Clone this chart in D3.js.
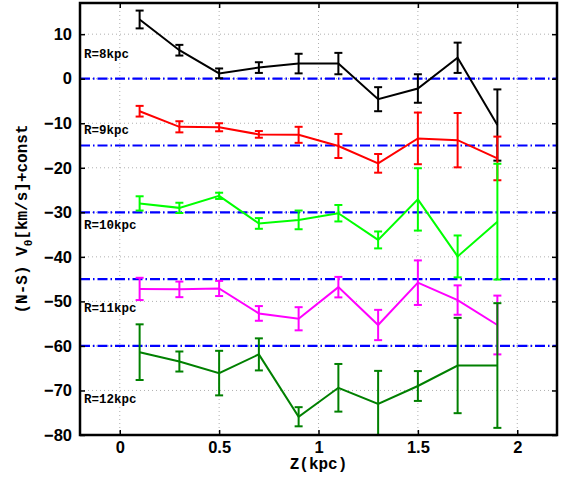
<!DOCTYPE html>
<html><head><meta charset="utf-8">
<script src="https://cdn.jsdelivr.net/npm/d3@7"></script>
<style>
html,body{margin:0;padding:0;background:#fff;}
svg{display:block;}
</style></head>
<body>
<script>
const zVals = [0.1, 0.3, 0.5, 0.7, 0.9, 1.1, 1.3, 1.5, 1.7, 1.9];
const seriesNames = ["R=8kpc", "R=9kpc", "R=10kpc", "R=11kpc", "R=12kpc"];
const seriesColors = ["#000000", "#ff0000", "#00ff00", "#ff00ff", "#008000"];
const r8  = [13.3, 6.4, 1.2, 2.5, 3.4, 3.4, -4.6, -2.2, 4.7, -10.4];
const e8  = [2.0, 1.2, 1.1, 1.2, 2.2, 2.4, 2.7, 3.2, 3.4, 8.0];
const r9  = [-7.3, -10.8, -10.9, -12.5, -12.6, -15.1, -19.0, -13.4, -13.8, -17.9];
const e9  = [1.2, 1.25, 0.9, 0.75, 1.8, 2.7, 2.1, 5.8, 6.1, 4.9];
const r10 = [-28.0, -29.0, -26.3, -32.5, -31.7, -30.2, -36.2, -27.1, -39.9, -32.1];
const e10 = [1.6, 1.15, 0.7, 1.2, 2.1, 1.85, 1.9, 7.0, 4.7, 13.0];
const r11 = [-47.2, -47.3, -47.1, -52.7, -53.9, -46.8, -55.3, -45.8, -49.7, -55.3];
const e11 = [2.5, 1.75, 1.7, 1.65, 2.6, 2.3, 3.4, 5.0, 3.3, 6.6];
const r12 = [-61.4, -63.5, -66.1, -61.9, -75.9, -69.4, -73.0, -69.0, -64.4, -64.4];
const e12 = [6.25, 2.25, 5.0, 3.6, 2.15, 5.35, 7.4, 3.35, 10.7, 14.0];
const baseLines = [0, -15, -30, -45, -60];
const labelY = [5.3, -11.7, -32.9, -51.7, -72.1];
const xTicks = [0, 0.5, 1, 1.5, 2];
const yTicks = [-80, -70, -60, -50, -40, -30, -20, -10, 0, 10];

const values = [r8, r9, r10, r11, r12];
const errors = [e8, e9, e10, e11, e12];

const W = 563, H = 478;
const L = 80, R = 557, T = 3, B = 435;

const x = d3.scaleLinear().domain([-0.2, 2.2]).range([L, R]);
const y = d3.scaleLinear().domain([-80, 17]).range([B, T]);

const svg = d3.select("body").append("svg").attr("width", W).attr("height", H);

svg.append("defs").append("clipPath").attr("id", "clip")
  .append("rect").attr("x", L).attr("y", T).attr("width", R - L).attr("height", B - T);

// grid
const grid = svg.append("g");
grid.selectAll(".gx").data(xTicks).join("line")
  .attr("x1", d => x(d)).attr("x2", d => x(d)).attr("y1", T).attr("y2", B)
  .attr("stroke", "#b0b0b0").attr("stroke-width", 1).attr("stroke-dasharray", "1,3");
grid.selectAll(".gy").data(yTicks).join("line")
  .attr("y1", d => y(d)).attr("y2", d => y(d)).attr("x1", L).attr("x2", R)
  .attr("stroke", "#b0b0b0").attr("stroke-width", 1).attr("stroke-dasharray", "1,3");

const plot = svg.append("g").attr("clip-path", "url(#clip)");

// baselines
plot.selectAll(".base").data(baseLines).join("line")
  .attr("x1", L).attr("x2", R).attr("y1", d => y(d)).attr("y2", d => y(d))
  .attr("stroke", "#0000ff").attr("stroke-width", 2.2).attr("stroke-dasharray", "10,3,1.5,3");

// series
const line = d3.line().x(d => x(d[0])).y(d => y(d[1]));
values.forEach((vals, i) => {
  const col = seriesColors[i];
  const pts = zVals.map((z, j) => [z, vals[j], errors[i][j]]);
  const g = plot.append("g");
  g.append("path").attr("d", line(pts)).attr("fill", "none")
    .attr("stroke", col).attr("stroke-width", 2);
  const eb = g.selectAll(".eb").data(pts).join("g");
  eb.append("line").attr("x1", d => x(d[0])).attr("x2", d => x(d[0]))
    .attr("y1", d => y(d[1] + d[2])).attr("y2", d => y(d[1] - d[2]))
    .attr("stroke", col).attr("stroke-width", 2);
  [1, -1].forEach(s => {
    eb.append("line").attr("x1", d => x(d[0]) - 4).attr("x2", d => x(d[0]) + 4)
      .attr("y1", d => y(d[1] + s * d[2])).attr("y2", d => y(d[1] + s * d[2]))
      .attr("stroke", col).attr("stroke-width", 2);
  });
});

// series labels
svg.selectAll(".rl").data(seriesNames).join("text")
  .attr("x", x(-0.18)).attr("y", (d, i) => y(labelY[i]))
  .attr("dominant-baseline", "middle")
  .attr("font-family", "'Liberation Mono', 'Courier New', monospace")
  .attr("font-weight", "bold").attr("font-size", 12.5).attr("fill", "#000")
  .text(d => d);

// axes: ticks inward on all sides
const tickLen = 5;
const axisBottom = d3.axisBottom(x).tickValues(xTicks).tickSize(-tickLen).tickPadding(6).tickFormat(d3.format("~g"));
const axisTop = d3.axisTop(x).tickValues(xTicks).tickSize(-tickLen).tickFormat("");
const axisLeft = d3.axisLeft(y).tickValues(yTicks).tickSize(-tickLen).tickPadding(8).tickFormat(d3.format("d"));
const axisRight = d3.axisRight(y).tickValues(yTicks).tickSize(-tickLen).tickFormat("");

function styleAxis(g) {
  g.select(".domain").remove();
  g.selectAll(".tick line").attr("stroke", "#000").attr("stroke-width", 1.5);
  g.selectAll("text").attr("font-family", "'Liberation Sans', Arial, sans-serif")
    .attr("font-weight", "bold").attr("font-size", 16.5).attr("fill", "#000");
}
svg.append("g").attr("transform", `translate(0,${B})`).call(axisBottom).call(styleAxis);
svg.append("g").attr("transform", `translate(0,${T})`).call(axisTop).call(styleAxis);
svg.append("g").attr("transform", `translate(${L},0)`).call(axisLeft).call(styleAxis);
svg.append("g").attr("transform", `translate(${R},0)`).call(axisRight).call(styleAxis);

// box
svg.append("rect").attr("x", L).attr("y", T).attr("width", R - L).attr("height", B - T)
  .attr("fill", "none").attr("stroke", "#000").attr("stroke-width", 2.5);

// axis labels
svg.append("text").attr("x", (L + R) / 2).attr("y", 469).attr("text-anchor", "middle")
  .attr("font-family", "'Liberation Mono', 'Courier New', monospace")
  .attr("font-weight", "bold").attr("font-size", 16).text("Z(kpc)");

const yl = svg.append("text").attr("transform", `translate(27,${(T + B) / 2}) rotate(-90)`)
  .attr("text-anchor", "middle")
  .attr("font-family", "'Liberation Mono', 'Courier New', monospace")
  .attr("font-weight", "bold").attr("font-size", 16);
yl.append("tspan").text("(N-S) V");
yl.append("tspan").attr("font-size", 11).attr("dy", 5).text("θ");
yl.append("tspan").attr("dy", -5).text("[km/s]+const");
</script>
</body></html>
